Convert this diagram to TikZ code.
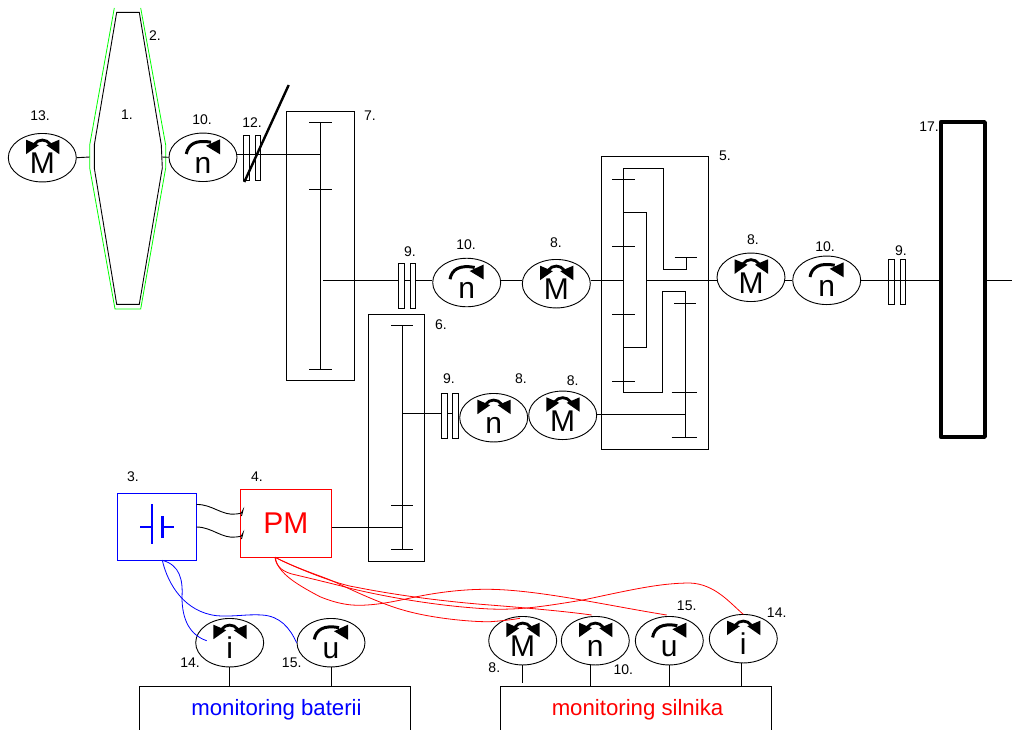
\documentclass[tikz,border=0pt]{standalone}
\usepackage{fontspec}
\setmainfont{Liberation Sans}
\usetikzlibrary{shapes.geometric}
\tikzset{
  line/.style={line width=0.9pt},
  meter/.style={draw,line width=0.9pt,ellipse,inner sep=0pt,minimum width=68pt,minimum height=48.5pt},
  letter/.style={inner sep=0pt,anchor=base,font=\fontsize{30}{30}\selectfont},
  tag/.style={inner sep=0pt,font=\fontsize{14}{16}\selectfont},
  plate/.style={draw,line width=0.9pt,fill=white,inner sep=0pt,minimum width=5.7pt,minimum height=45pt},
  bare/.style={draw,line width=0.9pt,inner sep=0pt,minimum width=5.7pt,minimum height=45pt},
  box/.style={draw,line width=0.9pt,inner sep=0pt},
  both/.pic={
    \fill (-16.3,-18) -- (-16.3,-3.5) -- (-3.5,-12.5) -- cycle;
    \fill (17,-18) -- (17,-3.5) -- (4,-12.5) -- cycle;
    \draw[line width=2.8pt] (-8,-13.5) .. controls (-4,-19) and (4,-19) .. (8,-13.5);
  },
  single/.pic={
    \draw[line width=3pt] (-16.7,-3.3) .. controls (-15,-13) and (-7,-18) .. (8,-15);
    \fill (17,-18) -- (17,-3) -- (3,-11.5) -- cycle;
  }
}
\begin{document}
\begin{tikzpicture}[x=1pt,y=-1pt]
\useasboundingbox (0,0) rectangle (1012,729);
\clip (0,0) rectangle (1012,729);
% meters
\foreach \nm/\x/\y/\sym/\kind in {mA/42.3/157.7/M/both, nA/203/157.3/n/single, nB/466.7/282.5/n/single,
  mB/556.3/283.7/M/both, nC/493.7/417.7/n/both, mC/562.7/415.3/M/both, mD/751/277.3/M/both,
  nD/826.7/280.3/n/single, iA/229.7/642.7/i/both, uA/331/642.7/u/single, mE/522.7/640.7/M/both,
  nE/595.3/640.7/n/both, uB/669.3/640.7/u/single, iB/743.3/638.7/i/both} {
  \node[meter] (\nm) at (\x,\y) {};
  \node[letter,yshift=-15.7] (\nm t) at (\nm) {\sym};
  \pic at (\nm) {\kind};
}
% wheel
\draw[green,line width=0.8pt] (114.3,8) -- (89.7,145) -- (89.7,168) -- (115,309) -- (140.7,309) -- (165.7,168) -- (165.7,145) -- (140.7,8);
\draw[line] (116.7,12.3) -- (139.3,12.3) -- (161.3,145) -- (162.3,168) -- (139.3,304.3) -- (116.7,304.3) -- (94.3,168) -- (94.3,145) -- cycle;
\coordinate (wheelL) at (89.7,157);
\coordinate (wheelR) at (162.3,157);
\draw[line] (mA.east) -- (wheelL);
\draw[line] (wheelR) -- (nA.west);
% first gear box
\node[box,minimum width=68pt,minimum height=269pt] (gearboxA) at (320.8,245.5) {};
\coordinate (gA) at (320.3,154.3);
\coordinate (gAout) at (323.3,280);
\draw[line] (320.3,122.3) -- (320.3,369);
\foreach \y in {122.3,189.7,369} \draw[line] (309.3,\y) -- (331.7,\y);
\draw[line] (nA.east |- gA) -- (gA);
\node[bare] (clA) at (246.5,157.5) {};
\node[bare] (clB) at (257.8,157.5) {};
\coordinate (leverA) at (244.3,182);
\coordinate (leverB) at (288.7,85);
\draw[line width=2.4pt] (leverA) -- (leverB);
% second gear box
\node[box,minimum width=56.3pt,minimum height=247pt] (gearboxB) at (396.2,438.2) {};
\coordinate (gBin) at (402,527);
\coordinate (gBout) at (402,413.5);
\draw[line] (402,325.7) -- (402,549.7);
\foreach \y in {325.7,505.7,549.7} \draw[line] (391,\y) -- (413,\y);
% shafts
\draw[line] (gAout) -- (nB.west |- gAout);
\draw[line] (nB.east |- gAout) -- (mB.west |- gAout);
\draw[line] (gBout) -- (nC.west |- gBout);
\node[plate] (clC) at (401.5,285.8) {};
\node[plate] (clD) at (412.8,285.8) {};
\node[plate] (clE) at (444.5,415.8) {};
\node[plate] (clF) at (455.5,415.8) {};
% planetary box
\node[box,minimum width=107pt,minimum height=292.3pt] (gearboxC) at (654.8,302.8) {};
\coordinate (sunIn) at (623.7,280);
\coordinate (ringIn) at (685,414.7);
\coordinate (sunOut) at (646.3,280.7);
\draw[line] (623.7,168) -- (623.7,392.7);
\draw[line] (623.7,168) -- (663.7,168) -- (663.7,269) -- (686,269) -- (686,257.7);
\draw[line] (674.7,257.7) -- (697,257.7);
\foreach \y in {179.3,246.7,314,381.3} \draw[line] (612.3,\y) -- (635,\y);
\draw[line] (623.7,212.3) -- (646.3,212.3) -- (646.3,347.7) -- (623.7,347.7);
\draw[line] (623.7,392.7) -- (662.3,392.7) -- (662.3,291.7) -- (685,291.7) -- (685,437.7);
\draw[line] (674,303) -- (695.7,303);
\foreach \y in {392.7,437.7} \draw[line] (671.7,\y) -- (697,\y);
\draw[line] (mB.east |- sunIn) -- (sunIn);
\draw[line] (mC.east |- ringIn) -- (ringIn);
\draw[line] (sunOut) -- (mD.west |- sunOut);
\draw[line] (mD.east |- sunOut) -- (nD.west |- sunOut);
% drive
\node[draw,line width=3.8pt,line join=round,inner sep=0pt,minimum width=44.3pt,minimum height=315pt] (drum) at (962.8,279.5) {};
\coordinate (shaftEnd) at (1012,280.7);
\draw[line] (nD.east |- shaftEnd) -- (drum.west |- shaftEnd);
\draw[line] (drum.east |- shaftEnd) -- (shaftEnd);
\node[bare] (clG) at (891.5,282) {};
\node[bare] (clH) at (903,282) {};
% battery
\node[draw=blue,line width=0.9pt,inner sep=0pt,minimum width=79pt,minimum height=66.6pt] (bat) at (156.8,527) {};
\draw[blue,line width=2.4pt] (151.7,504.3) -- (151.7,543.7);
\draw[blue,line width=2.4pt] (162.3,516) -- (162.3,538.3);
\draw[blue,line width=2.2pt] (140,527) -- (151.7,527);
\draw[blue,line width=2.2pt] (162.3,527) -- (173.7,527);
% converter
\node[draw=red,line width=0.9pt,text=red,inner sep=0pt,minimum width=91pt,minimum height=67.6pt,font=\fontsize{30}{30}\selectfont] (pm) at (285.8,523.5) {PM};
\coordinate (pmTap) at (275,557.3);
\coordinate (batTap) at (162.3,560.3);
\draw[line] (196.5,504.5) .. controls (212,504) and (222,516) .. (236,514) .. controls (241,513.5) and (243,513) .. (243,510) -- (241.5,516);
\draw[line] (196.5,527) .. controls (212,527) and (222,539) .. (236,537) .. controls (241,536.5) and (243,536) .. (243,533) -- (241.5,539);
\draw[line] (pm.east |- gBin) -- (gBin);
% sense wires
\draw[blue,line width=0.8pt] (batTap) .. controls (180,565) and (183,580) .. (182,597) .. controls (182,620) and (190,635) .. (206.7,640.7);
\draw[blue,line width=0.8pt] (batTap) .. controls (168,585) and (185,612) .. (216.7,615.7) .. controls (235,617) and (245,614) .. (262,615) .. controls (280,616) and (290,628) .. (uA.west);
\draw[red,line width=0.8pt] (pmTap) .. controls (278,572) and (292,582) .. (320,596.7) .. controls (340,605) and (355,606) .. (366.7,605) .. controls (385,604) and (405,599) .. (416.7,596.7) .. controls (440,592) and (465,589) .. (490,589.3) .. controls (540,590) and (610,606) .. (666.7,615);
\draw[red,line width=0.8pt] (pmTap) .. controls (300,570) and (340,585) .. (355,587) .. controls (400,596) and (450,602) .. (490,605) .. controls (540,609) and (570,612) .. (591.7,615);
\draw[red,line width=0.8pt] (pmTap) .. controls (276,568) and (285,572) .. (292,574) .. controls (330,583) and (345,587) .. (353,589) .. controls (400,600) and (450,607) .. (490,609) .. controls (520,610) and (540,607) .. (583,600) .. controls (630,590) and (660,583) .. (690,583) .. controls (715,584) and (730,603) .. (743.3,614.3);
\draw[red,line width=0.8pt] (pmTap) .. controls (300,570) and (325,577) .. (337,583) .. controls (360,594) and (385,605) .. (403,610) .. controls (430,618) and (470,622) .. (490,621.7) .. controls (500,621) and (510,620) .. (520,618.3);
% monitoring
\node[box,anchor=north,minimum width=270.7pt,minimum height=70pt] (monA) at (274.7,685.5) {};
\node[box,anchor=north,minimum width=270.7pt,minimum height=70pt] (monB) at (636,685.7) {};
\node[inner sep=0pt,text=blue,font=\fontsize{22.2}{24}\selectfont] (monAt) at (276.5,710) {monitoring baterii};
\node[inner sep=0pt,text=red,font=\fontsize{22.2}{24}\selectfont] (monBt) at (637.5,710) {monitoring silnika};
\coordinate (tapM) at (522.7,682.7);
\coordinate (tapN) at (590.7,685.7);
\coordinate (tapU) at (669.3,685.7);
\coordinate (tapI) at (741.3,685.7);
\draw[line] (iA.south) -- (iA.south |- monA.north);
\draw[line] (uA.south) -- (uA.south |- monA.north);
\draw[line] (mE.south) -- (tapM);
\draw[line] (tapN |- nE.south) -- (tapN);
\draw[line] (uB.south) -- (tapU);
\draw[line] (tapI |- iB.south) -- (tapI);
% numbers
\foreach \x/\y/\t [count=\i] in {40/116/13., 155/36/2., 127/115/1., 202/120/10., 252/123/12., 370/116/7.,
  410/252/9., 466/244.5/10., 556/243/8., 441/325/6., 725/156/5., 753/240/8., 825/247/10., 901/251/9.,
  929/127/17., 449/379/9., 521/379/8., 572.7/381/8., 133/477/3., 257/477/4., 190/662.7/14., 291.7/662.7/15.,
  686.7/606/15., 776.7/612.7/14., 494.3/667.3/8., 623.3/669.3/10.}
  \node[tag] (tag\i) at (\x,\y) {\t};
\end{tikzpicture}
\end{document}
